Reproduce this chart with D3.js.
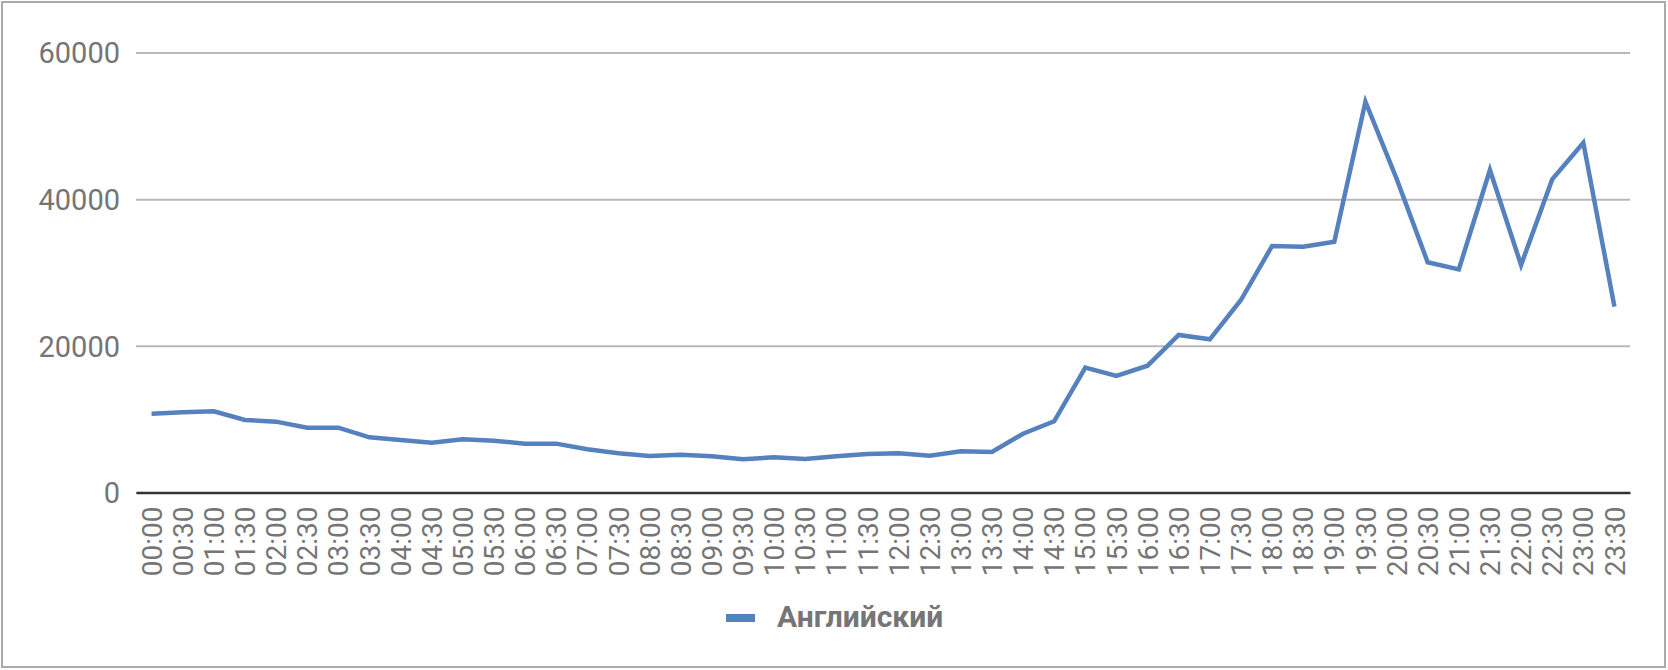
<!DOCTYPE html>
<html>
<head>
<meta charset="utf-8">
<script src="https://cdn.jsdelivr.net/npm/d3@7"></script>
<style>
  body { margin: 0; background: #fff; }
  text { font-family: Roboto, "Noto Sans", sans-serif; }
</style>
</head>
<body>
<div class="chart"></div>
<script>
let width = 1668,
    height = 670;

const times = [
    "00:00","00:30","01:00","01:30","02:00","02:30","03:00","03:30",
    "04:00","04:30","05:00","05:30","06:00","06:30","07:00","07:30",
    "08:00","08:30","09:00","09:30","10:00","10:30","11:00","11:30",
    "12:00","12:30","13:00","13:30","14:00","14:30","15:00","15:30",
    "16:00","16:30","17:00","17:30","18:00","18:30","19:00","19:30",
    "20:00","20:30","21:00","21:30","22:00","22:30","23:00","23:30"
];

const english = [
    10750, 10930, 11070, 9890, 9660, 8840, 8840, 7530,
    7160, 6790, 7250, 7070, 6660, 6660, 5890, 5350,
    4980, 5160, 4940, 4530, 4800, 4570, 4940, 5250,
    5350, 5020, 5620, 5520, 8020, 9710, 17020, 15890,
    17290, 21480, 20890, 26250, 33610, 33520, 34200, 53290,
    42800, 31390, 30430, 43980, 31020, 42700, 47700, 25340
];

const yTicks = [0, 20000, 40000, 60000];
const seriesName = "Английский";

const plot = { left: 136, right: 1630, top: 52.5, bottom: 492.5 };
const lineColor = "#5581be";
const textColor = "#757575";

let svg = d3.select(".chart").append("svg")
    .attr("width", width)
    .attr("height", height);

svg.append("rect")
    .attr("x", 0).attr("y", 0)
    .attr("width", width).attr("height", height)
    .attr("fill", "#fff");

// outer frame
svg.append("rect")
    .attr("x", 2).attr("y", 2)
    .attr("width", width - 5).attr("height", height - 5)
    .attr("fill", "none")
    .attr("stroke", "#aaaaaa")
    .attr("stroke-width", 2);

let x = d3.scaleBand()
    .domain(times)
    .range([plot.left, plot.right]);

let y = d3.scaleLinear()
    .domain([0, 60000])
    .range([plot.bottom, plot.top]);

// y axis + gridlines
let yAxis = svg.append("g")
    .attr("transform", `translate(${plot.left},0)`)
    .call(d3.axisLeft(y)
        .tickValues(yTicks)
        .tickSize(-(plot.right - plot.left))
        .tickPadding(16)
        .tickFormat(d3.format("d")));
yAxis.select(".domain").remove();
yAxis.selectAll(".tick line")
    .attr("stroke", "#b8b8b8")
    .attr("stroke-width", 2);
yAxis.selectAll(".tick text")
    .attr("fill", textColor)
    .style("font-size", "29px")
    .attr("dy", "0.36em");

// x axis
let xAxis = svg.append("g")
    .attr("transform", `translate(0,${plot.bottom})`)
    .call(d3.axisBottom(x).tickSize(0));
xAxis.select(".domain")
    .attr("stroke", "#333")
    .attr("stroke-width", 2.5);
xAxis.selectAll(".tick text")
    .attr("fill", textColor)
    .style("font-size", "28px")
    .attr("text-anchor", "end")
    .attr("transform", "rotate(-90)")
    .attr("x", -14)
    .attr("y", 0)
    .attr("dy", "0.36em");

// series line
let line = d3.line()
    .x((d, i) => x(times[i]) + x.bandwidth() / 2)
    .y(d => y(d));

svg.append("path")
    .datum(english)
    .attr("d", line)
    .attr("fill", "none")
    .attr("stroke", lineColor)
    .attr("stroke-width", 4.5)
    .attr("stroke-linejoin", "miter");

// legend
svg.append("rect")
    .attr("x", 726).attr("y", 614)
    .attr("width", 29).attr("height", 8)
    .attr("fill", lineColor);

svg.append("text")
    .attr("x", 777)
    .attr("y", 627)
    .attr("fill", textColor)
    .style("font-size", "30px")
    .style("font-weight", "bold")
    .text(seriesName);
</script>
</body>
</html>
